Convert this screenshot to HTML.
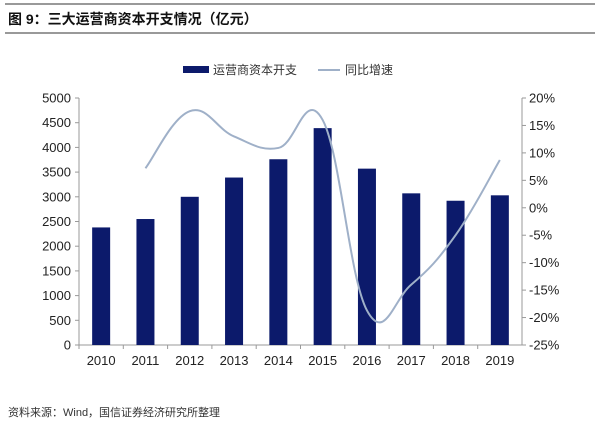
<!DOCTYPE html>
<html><head><meta charset="utf-8"><style>
body{margin:0;background:#fff;width:600px;height:425px;overflow:hidden;font-family:"Liberation Sans","Noto Sans CJK SC",sans-serif}
</style></head><body>
<svg width="600" height="425" xmlns="http://www.w3.org/2000/svg" font-family="Liberation Sans, Noto Sans CJK SC, sans-serif">
<line x1="5" y1="4" x2="595" y2="4" stroke="#333" stroke-width="1"/>
<text x="8" y="24" font-size="14" font-weight="bold" fill="#111">图 9：三大运营商资本开支情况（亿元）</text>
<line x1="5" y1="33" x2="595" y2="33" stroke="#333" stroke-width="1"/>
<g>
<rect x="183" y="66" width="26" height="7" fill="#0c1a6b"/>
<text x="213" y="74" font-size="12" fill="#333">运营商资本开支</text>
<line x1="318" y1="70" x2="340" y2="70" stroke="#9fb0c8" stroke-width="2"/>
<text x="345" y="74" font-size="12" fill="#333">同比增速</text>
</g>
<g id="chart"></g>
<text x="8" y="416" font-size="11" fill="#333">资料来源：Wind，国信证券经济研究所整理</text>
</svg>
<script>
const categories=["2010","2011","2012","2013","2014","2015","2016","2017","2018","2019"];
const capex=[2380,2550,3000,3390,3760,4390,3570,3070,2920,3030];
const growth=[null,7.2,17.6,13.0,10.9,16.0,-18.7,-14.0,-5.0,8.7];
const leftTicks=[0,500,1000,1500,2000,2500,3000,3500,4000,4500,5000];
const rightTicks=[-25,-20,-15,-10,-5,0,5,10,15,20];
const NS="http://www.w3.org/2000/svg";
const g=document.getElementById('chart');
const x0=79,x1=522,yTop=98,yBot=345;
const bw=(x1-x0)/categories.length;
const xC=i=>x0+bw*(i+0.5);
const yL=v=>yBot-(v/5000)*(yBot-yTop);
const yR=v=>yBot-((v+25)/45)*(yBot-yTop);
function mk(t,a){const e=document.createElementNS(NS,t);for(const k in a)e.setAttribute(k,a[k]);g.appendChild(e);return e;}
let e;
e=mk('line',{x1:x0,y1:yTop,x2:x0,y2:yBot,stroke:'#999'});


e=mk('line',{x1:x1,y1:yTop,x2:x1,y2:yBot,stroke:'#999'});


e=mk('line',{x1:x0,y1:yBot,x2:x1,y2:yBot,stroke:'#999'});


leftTicks.forEach(v=>{
 mk('line',{x1:x0-4,y1:yL(v),x2:x0,y2:yL(v),stroke:'#999'});
 e=mk('text',{x:x0-8,y:yL(v)+4.5,'font-size':13,'text-anchor':'end',fill:'#222'});e.textContent=v;
 
 
});
rightTicks.forEach(v=>{
 mk('line',{x1:x1,y1:yR(v),x2:x1+4,y2:yR(v),stroke:'#999'});
 e=mk('text',{x:x1+7,y:yR(v)+4.5,'font-size':13,fill:'#222'});e.textContent=v+'%';
 
 
});
categories.forEach((c,i)=>{
 mk('line',{x1:x0+bw*i,y1:yBot,x2:x0+bw*i,y2:yBot+4,stroke:'#999'});
 e=mk('rect',{x:xC(i)-9,y:yL(capex[i]),width:18,height:yBot-yL(capex[i]),fill:'#0c1a6b'});
 
 
 e=mk('text',{x:xC(i),y:yBot+20,'font-size':13,'text-anchor':'middle',fill:'#222'});e.textContent=c;
 
 
});
const pts=[];growth.forEach((v,i)=>{if(v!==null)pts.push([xC(i),yR(v)]);});
let d='M'+pts[0][0]+','+pts[0][1];
for(let i=0;i<pts.length-1;i++){
 const p0=pts[Math.max(0,i-1)],p1=pts[i],p2=pts[i+1],p3=pts[Math.min(pts.length-1,i+2)];
 const t=0.2;
 d+=` C${p1[0]+(p2[0]-p0[0])*t},${p1[1]+(p2[1]-p0[1])*t} ${p2[0]-(p3[0]-p1[0])*t},${p2[1]-(p3[1]-p1[1])*t} ${p2[0]},${p2[1]}`;
}
e=mk('path',{d:d,fill:'none',stroke:'#9fb0c8','stroke-width':2});


</script>
</body></html>
